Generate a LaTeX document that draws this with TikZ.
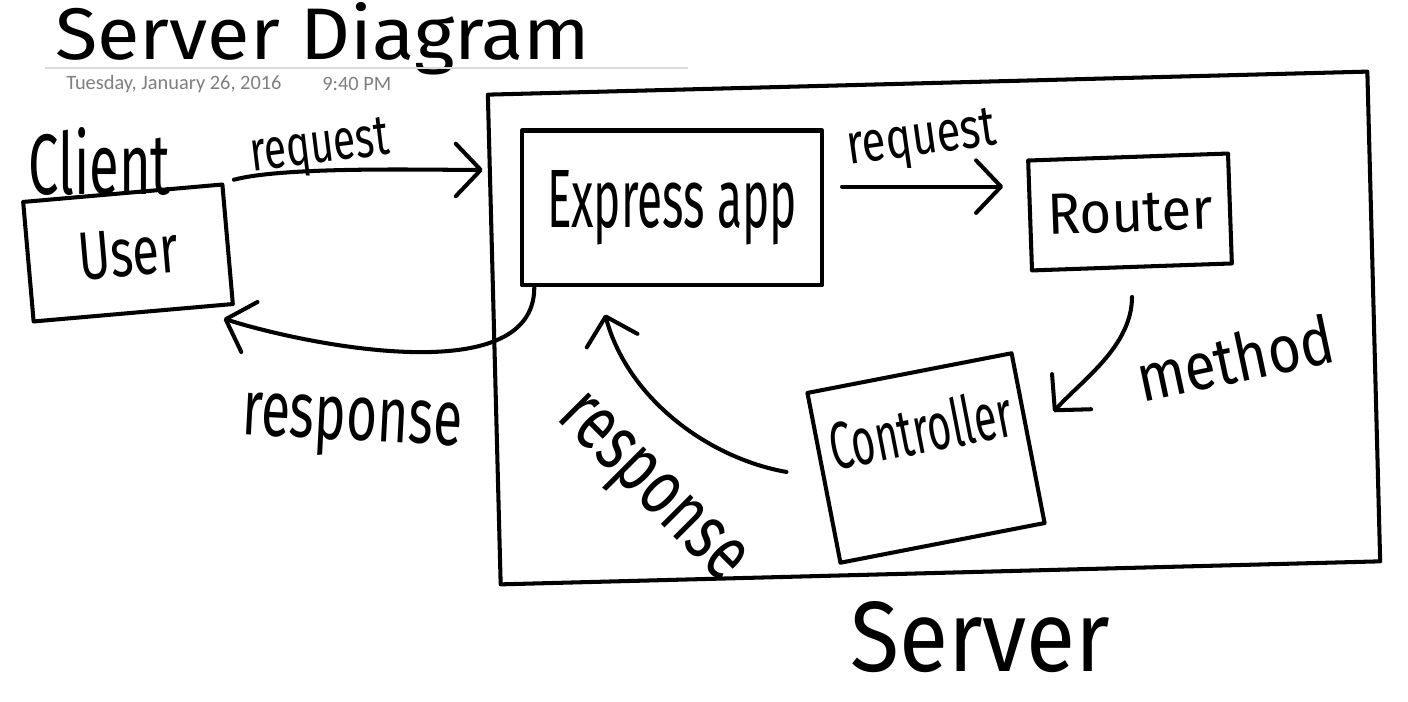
\documentclass[tikz,border=0pt]{standalone}
\usepackage{fontspec}
\usepackage{graphicx}
\usetikzlibrary{arrows.meta}
\newfontfamily\handfont{Fira Sans}
\newfontfamily\datefont{Carlito}
\definecolor{stampgray}{HTML}{7F7F7F}
\definecolor{rulegray}{HTML}{DADADA}
% hand lettering squeezed to a given width and height
\newcommand{\scrawl}[3]{\resizebox{#1}{#2}{\handfont #3}}
\tikzset{
  box/.style={draw, line width=2.3pt, line join=round},
  hand arrow/.style={line width=2.3pt, line cap=round,
    -{Straight Barb[length=0.5cm, width=1.05cm, round]}},
  scribble/.style={inner sep=0pt},
  stamp/.style={anchor=west, inner sep=0pt, text=stampgray,
    font=\datefont\fontsize{11.6}{13}\selectfont},
}

\begin{document}
\begin{tikzpicture}[x=0.02cm, y=0.02cm]
\useasboundingbox (0,0) rectangle (1408,702);
\fill[white] (0,0) rectangle (1408,702);

% heading
\node[scribble, anchor=base west] (title) at (55,642) {\scrawl{10.7cm}{1.14cm}{Server Diagram}};
\draw[rulegray, line width=0.6pt] (45,634) -- (688,634);
\node[stamp] (date) at (66,618) {Tuesday, January 26, 2016};
\node[stamp] (time) at (322,618) {9:40 PM};

% client
\node[scribble, anchor=base west] (client) at (28,507) {\scrawl{2.84cm}{1.34cm}{Client}};
\node[box, minimum width=4cm, minimum height=2.4cm, rotate=5] (user) at (128,449) {\scrawl{2cm}{0.94cm}{User}};

% server and its parts
\node[box, minimum width=17.6cm, minimum height=9.8cm, rotate=1.5] (server) at (934,374) {};
\node[scribble, anchor=base west] (servername) at (850,30) {\scrawl{5.2cm}{1.4cm}{Server}};
\node[box, minimum width=6cm, minimum height=3.1cm] (express) at (672,494) {\scrawl{5cm}{1.14cm}{Express app}};
\node[box, minimum width=4cm, minimum height=2.2cm, rotate=2] (router) at (1130,490) {\scrawl{3.3cm}{0.8cm}{Router}};
\node[box, minimum width=4.16cm, inner sep=0.13cm, text height=1.5cm, text depth=1.7cm, rotate=11] (controller) at (926,244) {\scrawl{3.7cm}{1cm}{Controller}};

% requests and responses
\draw[hand arrow, shorten <=0.2cm, shorten >=0.1cm] (user.north east) to[out=15, in=180, looseness=0.6] (server.159);
\draw[hand arrow, shorten <=0.36cm, shorten >=0.5cm] (express.8) -- (express.8 -| router.west);
\draw[hand arrow, shorten <=0.56cm, shorten >=0.7cm] (router.south) to[out=-90, in=48] (controller.east);
\draw[hand arrow, shorten <=0.72cm, shorten >=0.56cm] (controller.west) to[out=170, in=-75] (express.-133);
\draw[hand arrow, shorten >=0.6cm] (express.-150) to[out=-90, in=-18, looseness=0.8] (user.-45);

\node[scribble, rotate=7] (req1) at (320,552) {\scrawl{2.8cm}{0.75cm}{request}};
\node[scribble, rotate=8] (req2) at (922,560) {\scrawl{3cm}{0.75cm}{request}};
\node[scribble, rotate=12] (meth) at (1235,344) {\scrawl{4cm}{1cm}{method}};
\node[scribble, anchor=base, rotate=-3] (resp1) at (351,262) {\scrawl{4.4cm}{0.85cm}{response}};
\node[scribble, rotate=-45] (resp2) at (648,210) {\scrawl{4.7cm}{0.85cm}{response}};
\end{tikzpicture}
\end{document}
